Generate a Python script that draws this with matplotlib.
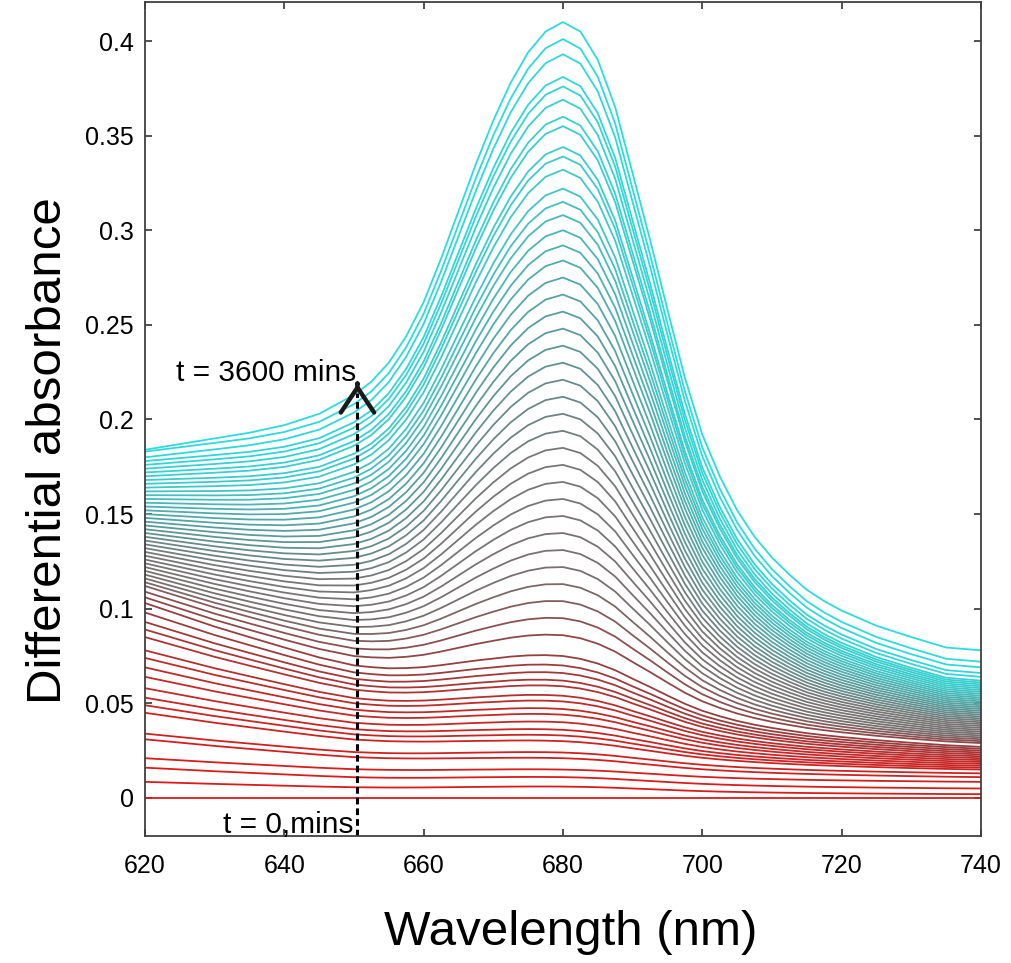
import numpy as np
import matplotlib
matplotlib.use("Agg")
import matplotlib.pyplot as plt
from matplotlib.colors import LinearSegmentedColormap

plt.rcParams['font.family'] = ['Liberation Sans', 'DejaVu Sans']

# wavelength grid (nm)
wavelength = [620, 625, 630, 635, 640, 645, 650, 652.5, 655, 657.5, 660,
              662.5, 665, 667.5, 670, 672.5, 675, 677.5, 680, 682.5, 685,
              687.5, 690, 692.5, 695, 697.5, 700, 702.5, 705, 707.5, 710,
              712.5, 715, 717.5, 720, 725, 730, 735, 740]

# sloping background (1 at 620 nm, 0 at 740 nm)
decay_shape = [1.0, 0.9, 0.8, 0.71, 0.62, 0.53, 0.45, 0.425, 0.40, 0.38,
               0.36, 0.34, 0.32, 0.30, 0.28, 0.265, 0.25, 0.235, 0.22, 0.205,
               0.19, 0.175, 0.16, 0.148, 0.136, 0.125, 0.115, 0.105, 0.095,
               0.086, 0.077, 0.069, 0.061, 0.054, 0.047, 0.034, 0.022, 0.011,
               0.0]

# last spectrum (t = 3600 mins), read point by point
last_spectrum = [0.184, 0.187, 0.190, 0.193, 0.197, 0.203, 0.213, 0.220,
                 0.230, 0.244, 0.262, 0.285, 0.310, 0.335, 0.358, 0.378,
                 0.394, 0.405, 0.410, 0.405, 0.390, 0.365, 0.330, 0.295,
                 0.258, 0.222, 0.192, 0.170, 0.152, 0.138, 0.127, 0.118,
                 0.110, 0.104, 0.099, 0.091, 0.085, 0.0795, 0.078]
last_background_620 = 0.174

# readings of each spectrum (t = 0 ... t = 3600 mins)
abs_620 = [0.000, 0.0085, 0.016, 0.021, 0.031, 0.034, 0.045, 0.049, 0.053,
           0.058, 0.064, 0.069, 0.074, 0.078, 0.085, 0.089, 0.093, 0.098,
           0.103,
           0.106, 0.109, 0.112, 0.114, 0.116, 0.118, 0.120, 0.122, 0.124,
           0.126, 0.128, 0.130, 0.132, 0.134, 0.136, 0.138, 0.140, 0.142,
           0.144, 0.146, 0.148, 0.150, 0.152, 0.154, 0.156, 0.158, 0.160,
           0.162, 0.164, 0.166, 0.168, 0.170, 0.172, 0.174, 0.176, 0.178,
           0.180, 0.183, 0.184]
abs_680 = [0.000, 0.006, 0.011, 0.015, 0.021, 0.024, 0.030, 0.033, 0.036,
           0.040, 0.044, 0.047, 0.051, 0.054, 0.059, 0.062, 0.066, 0.070,
           0.075,
           0.086, 0.095, 0.104, 0.113, 0.122, 0.131, 0.140, 0.149, 0.158,
           0.167, 0.176, 0.185, 0.194, 0.203, 0.212, 0.221, 0.230, 0.239,
           0.248, 0.257, 0.266, 0.275, 0.284, 0.292,
           0.300, 0.308, 0.315, 0.322, 0.332, 0.339, 0.344, 0.355, 0.360,
           0.369, 0.376, 0.381, 0.393, 0.401, 0.410]
abs_740 = [0.000, 0.002, 0.005, 0.0085, 0.011, 0.013, 0.015, 0.016, 0.017,
           0.018, 0.019, 0.020, 0.021, 0.022, 0.023, 0.024, 0.025, 0.026,
           0.027,
           0.029, 0.030, 0.031, 0.032, 0.033, 0.034, 0.035, 0.036, 0.037,
           0.038, 0.039, 0.040, 0.041, 0.042, 0.043, 0.044, 0.045, 0.046,
           0.047, 0.048, 0.049, 0.050, 0.051, 0.052, 0.053, 0.054, 0.055,
           0.056, 0.057, 0.058, 0.059, 0.060, 0.061, 0.062, 0.064, 0.066,
           0.069, 0.072, 0.078]

ytick_vals = [0, 0.05, 0.1, 0.15, 0.2, 0.25, 0.3, 0.35, 0.4]
ytick_labels = ['0', '0.05', '0.1', '0.15', '0.2', '0.25', '0.3', '0.35', '0.4']
xtick_vals = [620, 640, 660, 680, 700, 720, 740]

wl = np.array(wavelength)
decay = np.array(decay_shape)
last = np.array(last_spectrum)
i680 = wavelength.index(680)

# 680 nm band = last spectrum minus its sloping background, scaled to 1 at peak
last_bg = last[-1] + (last_background_620 - last[-1]) * decay
band = (last - last_bg) / (last[i680] - last_bg[i680])

cmap = LinearSegmentedColormap.from_list(
    'time', [(0.0, '#dc1a1a'), (0.2, '#c02a2a'), (0.32, '#944040'),
             (0.4, '#787070'), (0.52, '#787878'), (0.66, '#5a9c9c'),
             (0.82, '#40c8c8'), (1.0, '#2cdcdc')])

fig = plt.figure(figsize=(10.11, 9.63), dpi=100)
ax = fig.add_axes([0.1434, 0.1319, 0.8269, 0.8660])

n = len(abs_620)
for i in range(n):
    v620, v680, v740 = abs_620[i], abs_680[i], abs_740[i]
    # split each reading into sloping background + 680 nm band
    ph = ((v680 - v740) - decay[i680] * (v620 - v740)) / (1 - decay[i680] * band[0])
    d = (v620 - v740) - band[0] * ph
    y = v740 + d * decay + ph * band
    ax.plot(wl, y, color=cmap(i / (n - 1)), lw=1.3)

# time arrow
ax.plot([650.5, 650.5], [-0.02, 0.214], color='black', lw=2.2,
        linestyle=(0, (2.2, 1.3)))
ax.annotate('', xy=(650.5, 0.219), xytext=(650.5, 0.2189),
            arrowprops=dict(arrowstyle='->,head_length=0.9,head_width=0.6',
                            lw=3.2, color='#1a1a1a', mutation_scale=20,
                            shrinkA=0, shrinkB=0))
ax.text(650.3, 0.2205, 't = 3600 mins', fontsize=21.5, ha='right',
        va='baseline')
ax.text(649.9, -0.0185, 't = 0,mins', fontsize=21.5, ha='right',
        va='baseline')

ax.set_xlim(620, 740)
ax.set_ylim(-0.0201, 0.4206)
ax.set_xticks(xtick_vals)
ax.set_yticks(ytick_vals)
ax.set_yticklabels(ytick_labels)
ax.tick_params(direction='in', top=True, right=True, length=5, width=1.2,
               color='#333333', labelsize=18)
ax.tick_params(axis='x', pad=13)
ax.tick_params(axis='y', pad=8)
for s in ax.spines.values():
    s.set_color('#404040')
    s.set_linewidth(1.3)

ax.set_xlabel('Wavelength (nm)', fontsize=35.5, labelpad=23)
ax.set_ylabel('Differential absorbance', fontsize=35.5, labelpad=10)
ax.xaxis.label.set_x(0.5096)
ax.yaxis.label.set_y(0.4616)

fig.savefig('out.png', dpi=100)
